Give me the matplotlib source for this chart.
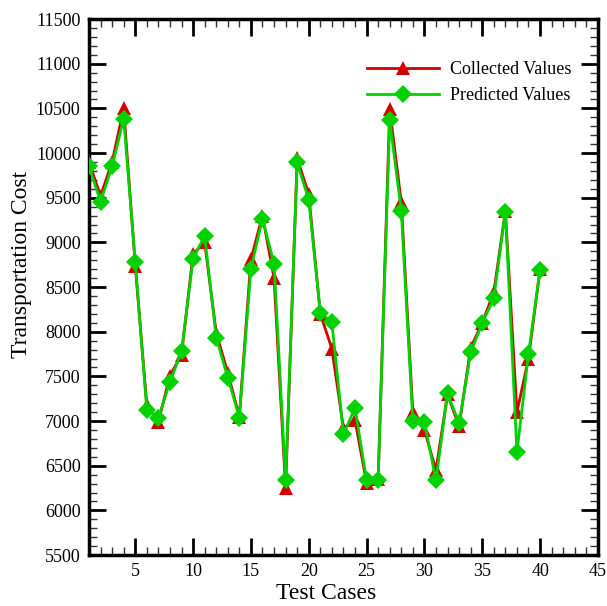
import matplotlib
matplotlib.use("Agg")
import matplotlib.pyplot as plt
from matplotlib.ticker import MultipleLocator

cases = list(range(1, 41))
collected = [9900, 9520, 9900, 10500, 8740, 7180, 6990, 7510, 7740, 8870,
             9000, 7990, 7540, 7050, 8810, 9300, 8600, 6250, 9940, 9540,
             8200, 7810, 6920, 7010, 6310, 6350, 10490, 9450, 7100, 6900,
             6450, 7300, 6940, 7820, 8100, 8440, 9350, 7100, 7700, 8700]
predicted = [9850, 9455, 9850, 10385, 8785, 7120, 7040, 7435, 7780, 8815,
             9075, 7935, 7485, 7040, 8705, 9265, 8760, 6335, 9895, 9475,
             8215, 8105, 6850, 7150, 6335, 6345, 10365, 9355, 7005, 6990,
             6335, 7310, 6975, 7770, 8095, 8375, 9345, 6650, 7755, 8695]
xticks = [5, 10, 15, 20, 25, 30, 35, 40, 45]
yticks = list(range(5500, 11501, 500))

plt.rcParams['font.family'] = ['Liberation Serif', 'DejaVu Serif']

fig = plt.figure(figsize=(6.07, 6.06), dpi=100)
ax = fig.add_axes([0.1466, 0.084, 0.985 - 0.1466, 0.9686 - 0.084])

red = '#d40000'
green = '#00d200'
ax.plot(cases, collected, color=red, lw=2, marker='^', ms=10,
        markeredgewidth=0, label='Collected Values', zorder=3)
ax.plot(cases, predicted, color=green, lw=2, marker='D', ms=9,
        markeredgewidth=0, label='Predicted Values', zorder=4)

ax.set_xlim(1, 45)
ax.set_ylim(5500, 11500)
ax.set_xticks(xticks)
ax.set_yticks(yticks)
ax.xaxis.set_minor_locator(MultipleLocator(1))
ax.yaxis.set_minor_locator(MultipleLocator(100))
ax.tick_params(which='both', direction='in', top=True, right=True,
               labelsize=13, color='black')
ax.tick_params(which='major', length=12, width=2, pad=6)
ax.tick_params(which='minor', length=6, width=1.0, color='#333333')
for s in ax.spines.values():
    s.set_linewidth(2.5)

ax.set_xlabel('Test Cases', fontsize=17)
ax.set_ylabel('Transportation Cost', fontsize=17)
ax.xaxis.set_label_coords(0.466, -0.052)
ax.yaxis.set_label_coords(-0.112, 0.543)

leg = ax.legend(loc='upper right', bbox_to_anchor=(0.98, 0.952),
                fontsize=13, frameon=False, handlelength=4, numpoints=1,
                handletextpad=0.6, labelspacing=0.5)

fig.savefig('out.png', dpi=100)
